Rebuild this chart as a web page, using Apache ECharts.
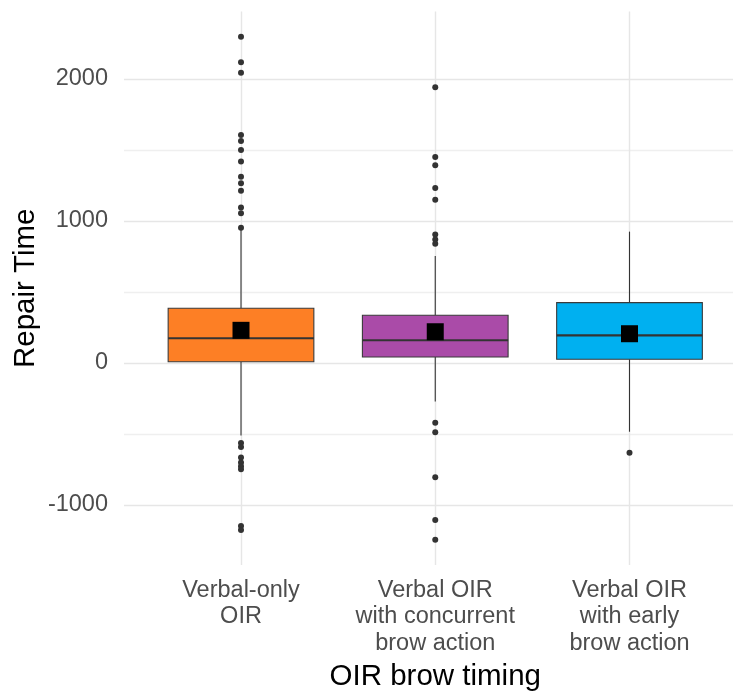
<!DOCTYPE html>
<html>
<head>
<meta charset="utf-8">
<script src="https://cdn.jsdelivr.net/npm/echarts@6/dist/echarts.min.js"></script>
<style>
  html, body { margin: 0; padding: 0; background: #ffffff; }
  #chart { width: 733px; height: 692px; }
</style>
</head>
<body>
<div id="chart"></div>
<script>
// Repair time by OIR brow timing: box summaries, outliers and group means
const categories = [
  'Verbal-only\nOIR',
  'Verbal OIR\nwith concurrent\nbrow action',
  'Verbal OIR\nwith early\nbrow action'
];
const whiskerLow  = [-510, -272, -484];
const lowerQuart  = [9, 42, 26];
const medians     = [174, 160, 195];
const upperQuart  = [385, 336, 425];
const whiskerHigh = [940, 753, 925];
const groupMeans  = [230, 220, 206];

const outliersVerbalOnly = [2298, 2118, 2044, 1606, 1563, 1500, 1418, 1312, 1265, 1213, 1094, 1054, 953,
                            -563, -592, -665, -700, -727, -748, -1148, -1176];
const outliersConcurrent = [1941, 1451, 1392, 1232, 1150, 905, 870, 840,
                            -420, -488, -805, -1106, -1244];
const outliersEarly = [-632];

const yTickValues = [-1500, -1000, -500, 0, 500, 1000, 1500, 2000, 2500];

const boxFills = ['#FD7F25', '#AA4BA8', '#00B0F0'];

// derived tables for the series
const boxData = categories.map((c, i) =>
  [i, whiskerLow[i], lowerQuart[i], medians[i], upperQuart[i], whiskerHigh[i]]);
const outlierData = [];
[outliersVerbalOnly, outliersConcurrent, outliersEarly].forEach((arr, i) =>
  arr.forEach(v => outlierData.push([i, v])));
const meanData = groupMeans.map((m, i) => [i, m]);

const FONT = '"Liberation Sans", Arial, Helvetica, sans-serif';
const GRID_MAJOR = '#e6e6e6';
const GRID_MINOR = '#efefef';
const TRANSPARENT = 'rgba(0,0,0,0)';

// colour per horizontal grid line: ends hidden, major at thousands, minor at halves
const hLineColors = yTickValues.map((v, k) =>
  (k === 0 || k === yTickValues.length - 1) ? TRANSPARENT : (v % 1000 === 0 ? GRID_MAJOR : GRID_MINOR));

const chart = echarts.init(document.getElementById('chart'), null, { renderer: 'canvas' });

chart.setOption({
  backgroundColor: '#ffffff',
  animation: false,
  textStyle: { fontFamily: FONT },
  grid: [
    // panel background grid: horizontal lines and y tick labels
    { left: 124, right: 0, top: 8, bottom: 116, containLabel: false, outerBoundsMode: 'none' },
    // data grid: boxes, points, vertical lines, x labels
    { left: 241, right: 103.5, top: 11.5, bottom: 127, containLabel: false, outerBoundsMode: 'none' }
  ],
  xAxis: [
    { gridIndex: 0, type: 'value', min: 0, max: 1, show: false },
    {
      gridIndex: 1,
      type: 'category',
      data: categories,
      boundaryGap: false,
      axisLine: { show: false },
      axisTick: { show: false },
      splitLine: { show: true, lineStyle: { color: GRID_MAJOR, width: 1.4 } },
      axisLabel: {
        interval: 0,
        margin: 12,
        fontSize: 23.5,
        lineHeight: 26.5,
        color: '#4d4d4d',
        fontFamily: FONT,
        align: 'center'
      },
      name: 'OIR brow timing',
      nameLocation: 'middle',
      nameGap: 95,
      nameTextStyle: { fontSize: 29.5, color: '#000000', fontFamily: FONT }
    }
  ],
  yAxis: [
    {
      gridIndex: 0,
      type: 'value',
      min: yTickValues[0],
      max: yTickValues[yTickValues.length - 1],
      interval: 500,
      axisLine: { show: false },
      axisTick: { show: false },
      splitLine: { show: true, lineStyle: { color: hLineColors, width: 1.4 } },
      axisLabel: {
        margin: 16,
        fontSize: 23.5,
        color: '#4d4d4d',
        fontFamily: FONT,
        formatter: v => (v % 1000 === 0 ? String(v) : '')
      }
    },
    {
      gridIndex: 1,
      type: 'value',
      min: -1422.5,
      max: 2475,
      axisLine: { show: false },
      axisTick: { show: false },
      axisLabel: { show: false },
      splitLine: { show: false },
      name: 'Repair Time',
      nameLocation: 'middle',
      nameRotate: 90,
      nameGap: 200,
      nameTextStyle: { fontSize: 29.5, color: '#000000', fontFamily: FONT }
    }
  ],
  series: [
    {
      type: 'custom',
      xAxisIndex: 1,
      yAxisIndex: 1,
      clip: false,
      encode: { x: 0, y: [1, 2, 3, 4, 5] },
      data: boxData,
      z: 2,
      renderItem: function (params, api) {
        const i = api.value(0);
        const pMin = api.coord([i, api.value(1)]);
        const pQ1 = api.coord([i, api.value(2)]);
        const pMed = api.coord([i, api.value(3)]);
        const pQ3 = api.coord([i, api.value(4)]);
        const pMax = api.coord([i, api.value(5)]);
        const cx = pMed[0];
        const half = api.size([1, 0])[0] * 0.375;
        const lineStyle = { stroke: '#333333', lineWidth: 1.1 };
        return {
          type: 'group',
          children: [
            { type: 'line', shape: { x1: cx, y1: pQ3[1], x2: cx, y2: pMax[1] }, style: lineStyle },
            { type: 'line', shape: { x1: cx, y1: pQ1[1], x2: cx, y2: pMin[1] }, style: lineStyle },
            {
              type: 'rect',
              shape: { x: cx - half, y: pQ3[1], width: half * 2, height: pQ1[1] - pQ3[1] },
              style: { fill: boxFills[i], stroke: '#3a3a3a', lineWidth: 1.1 }
            },
            {
              type: 'line',
              shape: { x1: cx - half, y1: pMed[1], x2: cx + half, y2: pMed[1] },
              style: { stroke: '#333333', lineWidth: 2.2 }
            }
          ]
        };
      }
    },
    {
      type: 'scatter',
      xAxisIndex: 1,
      yAxisIndex: 1,
      data: outlierData,
      symbol: 'circle',
      symbolSize: 6,
      itemStyle: { color: '#333333', opacity: 1 },
      z: 3
    },
    {
      type: 'scatter',
      xAxisIndex: 1,
      yAxisIndex: 1,
      data: meanData,
      symbol: 'rect',
      symbolSize: 17,
      itemStyle: { color: '#000000', opacity: 1 },
      z: 4
    }
  ]
});
</script>
</body>
</html>
